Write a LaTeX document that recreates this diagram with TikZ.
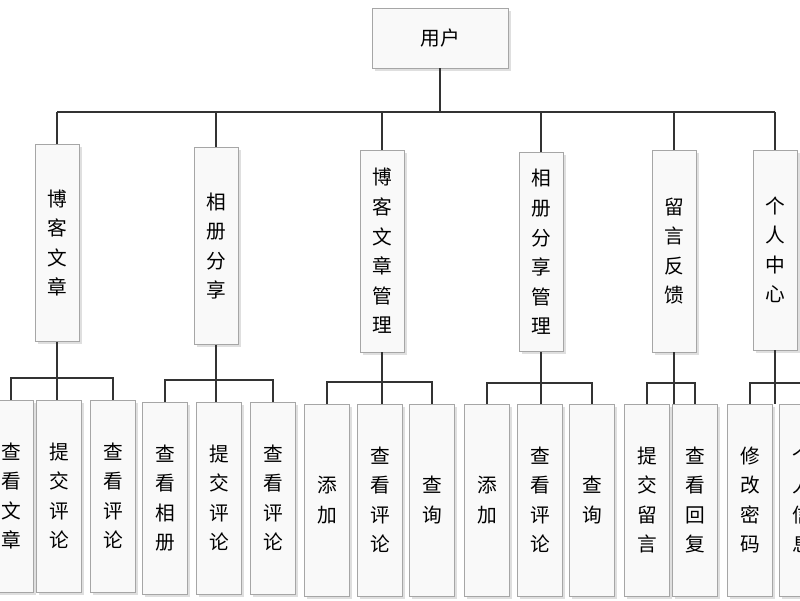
\documentclass[tikz,border=0pt]{standalone}
\usepackage{fontspec}
\setmainfont{Noto Sans CJK SC}
\usetikzlibrary{shadows}
\tikzset{
  box/.style={draw=gray!70, fill=gray!5, drop shadow={opacity=0.25, shadow xshift=2pt, shadow yshift=-2pt},
    inner sep=0pt, align=center, font=\fontsize{14}{21}\selectfont},
  link/.style={draw=black!80, line width=0.8pt}
}
\begin{document}
\begin{tikzpicture}[x=0.025cm, y=-0.025cm]
	\useasboundingbox (0,0) rectangle (800,600);
	\clip (0,0) rectangle (800,600);
	% root
	\node[box, minimum width=3.4cm, minimum height=1.5cm] (user) at (440,38) {用户};
	% second level
	\foreach \n/\x/\y/\h/\t in {b1/57/243/197/博\\客\\文\\章, b2/216/246/197/相\\册\\分\\享,
	  b3/382/251/202/博\\客\\文\\章\\管\\理, b4/541/252/199/相\\册\\分\\享\\管\\理,
	  b5/674/251/202/留\\言\\反\\馈, b6/775/250/200/个\\人\\中\\心}
	  \node[box, minimum width=1.1cm, minimum height=\h*0.025cm] (\n) at (\x,\y) {\t};
	% third level
	\foreach \n/\x/\y/\t in {c11/11/496/查\\看\\文\\章, c12/59/496/提\\交\\评\\论, c13/113/496/查\\看\\评\\论,
	  c21/165/498/查\\看\\相\\册, c22/219/498/提\\交\\评\\论, c23/273/498/查\\看\\评\\论,
	  c31/327/500/添\\加, c32/380/500/查\\看\\评\\论, c33/432/500/查\\询,
	  c41/487/500/添\\加, c42/540/500/查\\看\\评\\论, c43/592/500/查\\询,
	  c51/647/500/提\\交\\留\\言, c52/695/500/查\\看\\回\\复,
	  c61/750/500/修\\改\\密\\码, c62/802/500/个\\人\\信\\息}
	  \node[box, minimum width=1.12cm, minimum height=4.8cm] (\n) at (\x,\y) {\t};
	% connectors
	\draw[link] (user.south) -- (user.south |- 0,112);
	\draw[link] (b1.north |- 0,112) -- (b6.north |- 0,112);
	\foreach \n in {b1,b2,b3,b4,b5,b6}
	  \draw[link] (\n.north) -- (\n.north |- 0,112);
	\foreach \g/\last/\y in {1/3/378, 2/3/380, 3/3/382, 4/3/383, 5/2/383, 6/2/383} {
	  \draw[link] (b\g.south) -- (b\g.south |- 0,\y);
	  \draw[link] (c\g1.north) |- (c\g\last.north |- 0,\y) -- (c\g\last.north);
	  \draw[link] (b\g.south |- 0,\y) -- (b\g.south |- c\g1.north);
	}
\end{tikzpicture}
\end{document}
